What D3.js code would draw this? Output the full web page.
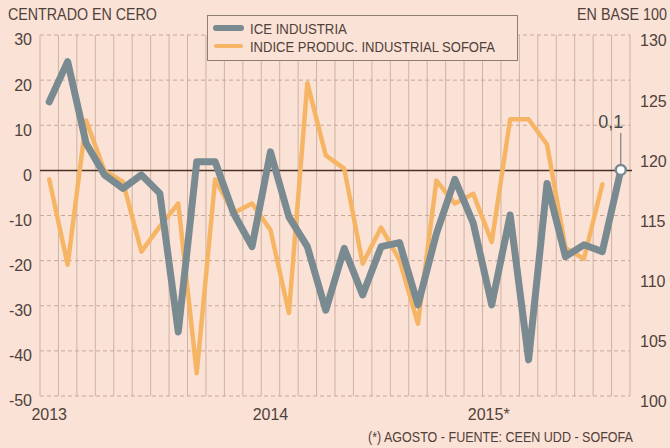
<!DOCTYPE html>
<html>
<head>
<meta charset="utf-8">
<script src="https://cdn.jsdelivr.net/npm/d3@7"></script>
<style>
  html, body { margin: 0; padding: 0; background: #fbe2d6; }
  svg { display: block; font-family: "Liberation Sans", Arial, sans-serif; }
</style>
</head>
<body>
<svg id="chart" width="670" height="448"></svg>
<script>
// =========================
// DATA
// =========================
const months = [
  "ene-13","feb-13","mar-13","abr-13","may-13","jun-13","jul-13","ago-13",
  "sep-13","oct-13","nov-13","dic-13","ene-14","feb-14","mar-14","abr-14",
  "may-14","jun-14","jul-14","ago-14","sep-14","oct-14","nov-14","dic-14",
  "ene-15","feb-15","mar-15","abr-15","may-15","jun-15","jul-15","ago-15"
];

// ICE industria, centrado en cero (eje izquierdo)
const iceValues = [
  15.2, 24.1, 6.0, -1.0, -4.0, -1.0, -5.1, -35.8,
  1.9, 1.9, -9.5, -16.9, 4.1, -10.3, -16.9, -31.0,
  -17.3, -27.6, -16.9, -16.0, -29.8, -14.0, -2.0, -11.7,
  -29.8, -9.9, -42.0, -2.9, -19.1, -16.5, -18.0, 0.1
];

// Indice produccion industrial Sofofa, base 100 (eje derecho)
const sofofaValues = [
  118.0, 110.9, 122.9, 118.7, 117.8, 112.0, 114.1, 116.0,
  101.9, 118.0, 115.2, 116.0, 113.8, 106.9, 126.0, 120.0,
  118.9, 111.0, 114.0, 111.3, 106.0, 117.9, 116.0, 116.8,
  112.8, 123.0, 123.0, 120.9, 112.3, 111.4, 117.6
];

const leftTicks = [30, 20, 10, 0, -10, -20, -30, -40, -50];
const rightTicks = [130, 125, 120, 115, 110, 105, 100];
const yearMonths = ["ene-13", "ene-14", "ene-15"];
const yearLabels = ["2013", "2014", "2015*"];

// =========================
// SETUP
// =========================
const svg = d3.select("#chart");
const bg = "#fbe2d6";
const textColor = "#4f413a";
const grayLine = "#7a8a91";
const orangeLine = "#f6b565";

const plot = { left: 40, right: 630, top: 35, bottom: 396 };

const x = d3.scaleBand().domain(months).range([plot.left, plot.right]);
const yL = d3.scaleLinear().domain([-50, 30]).range([plot.bottom, plot.top]);
const yR = d3.scaleLinear().domain([100, 130]).range([plot.bottom, plot.top]);
const cx = m => x(m) + x.bandwidth() / 2;

// squeeze a text horizontally to a given width (condensed look)
function fitText(sel, x0, y0, width) {
  const w = sel.node().getComputedTextLength();
  sel.attr("transform", `translate(${x0},${y0}) scale(${width / w},1)`);
  return sel;
}

svg.append("rect").attr("width", 670).attr("height", 448).attr("fill", bg);

// =========================
// GRID
// =========================
const bounds = months.map(m => x(m)).concat([plot.right]);
svg.append("g").selectAll("line")
  .data(bounds)
  .join("line")
  .attr("x1", d => d).attr("x2", d => d)
  .attr("y1", plot.top).attr("y2", plot.bottom)
  .attr("stroke", "#cfb2a2")
  .attr("stroke-width", 1);

svg.append("g").selectAll("line")
  .data(leftTicks.filter(d => d !== 0))
  .join("line")
  .attr("x1", plot.left).attr("x2", plot.right)
  .attr("y1", d => yL(d)).attr("y2", d => yL(d))
  .attr("stroke", "#c6a899")
  .attr("stroke-width", 1)
  .attr("stroke-dasharray", "4,3");

svg.append("line")
  .attr("x1", plot.left).attr("x2", plot.right + 2)
  .attr("y1", yL(0)).attr("y2", yL(0))
  .attr("stroke", "#4a3124")
  .attr("stroke-width", 1.5);

// =========================
// AXES
// =========================
const axL = svg.append("g")
  .attr("transform", `translate(${plot.left},0)`)
  .call(d3.axisLeft(yL).tickValues(leftTicks).tickFormat(d => String(d))
    .tickSize(0).tickPadding(8));
axL.select(".domain").remove();
axL.selectAll("text")
  .attr("dy", "0.62em")
  .attr("fill", textColor)
  .style("font-size", "16px")
  .style("font-family", "Liberation Sans, Arial, sans-serif");

const axR = svg.append("g")
  .attr("transform", `translate(${plot.right},0)`)
  .call(d3.axisRight(yR).tickValues(rightTicks).tickFormat(d => String(d))
    .tickSize(0).tickPadding(10));
axR.select(".domain").remove();
axR.selectAll("text")
  .attr("dy", "0.68em")
  .attr("fill", textColor)
  .style("font-size", "16px")
  .style("font-family", "Liberation Sans, Arial, sans-serif");

svg.append("g").selectAll("text")
  .data(yearMonths)
  .join("text")
  .attr("x", (d, i) => cx(d) + (i === 2 ? -3 : 0))
  .attr("y", 420)
  .attr("text-anchor", "middle")
  .attr("fill", textColor)
  .style("font-size", "16px")
  .text((d, i) => yearLabels[i]);

// =========================
// LINES
// =========================
const sofofaLine = d3.line()
  .x((d, i) => cx(months[i]))
  .y(d => yR(d));

const iceLine = d3.line()
  .x((d, i) => cx(months[i]))
  .y(d => yL(d));

svg.append("path")
  .datum(sofofaValues)
  .attr("d", sofofaLine)
  .attr("fill", "none")
  .attr("stroke", orangeLine)
  .attr("stroke-width", 4.5)
  .attr("stroke-linejoin", "round")
  .attr("stroke-linecap", "round");

svg.append("path")
  .datum(iceValues)
  .attr("d", iceLine)
  .attr("fill", "none")
  .attr("stroke", grayLine)
  .attr("stroke-width", 7)
  .attr("stroke-linejoin", "round")
  .attr("stroke-linecap", "round");

// last value marker
const lastM = months[months.length - 1];
const lastV = iceValues[iceValues.length - 1];
svg.append("line")
  .attr("x1", cx(lastM)).attr("x2", cx(lastM))
  .attr("y1", 133).attr("y2", yL(lastV) - 5)
  .attr("stroke", "#6b6b6b")
  .attr("stroke-width", 1);
svg.append("circle")
  .attr("cx", cx(lastM)).attr("cy", yL(lastV))
  .attr("r", 5)
  .attr("fill", "#ffffff")
  .attr("stroke", grayLine)
  .attr("stroke-width", 2.5);
svg.append("text")
  .attr("x", cx(lastM) - 10).attr("y", 128)
  .attr("text-anchor", "middle")
  .attr("fill", "#4a4a4a")
  .style("font-size", "18px")
  .text("0,1");

// =========================
// LEGEND
// =========================
const lg = svg.append("g");
lg.append("rect")
  .attr("x", 207.5).attr("y", 15.5)
  .attr("width", 310).attr("height", 45)
  .attr("fill", bg)
  .attr("stroke", "#8e7d75")
  .attr("stroke-width", 1);
lg.append("line")
  .attr("x1", 216).attr("x2", 241).attr("y1", 28).attr("y2", 28)
  .attr("stroke", grayLine).attr("stroke-width", 6).attr("stroke-linecap", "round");
lg.append("line")
  .attr("x1", 216).attr("x2", 241).attr("y1", 46).attr("y2", 46)
  .attr("stroke", orangeLine).attr("stroke-width", 4).attr("stroke-linecap", "round");
fitText(lg.append("text")
  .attr("fill", textColor)
  .style("font-size", "15px")
  .text("ICE INDUSTRIA"), 250, 34, 97);
fitText(lg.append("text")
  .attr("fill", textColor)
  .style("font-size", "15px")
  .text("INDICE PRODUC. INDUSTRIAL SOFOFA"), 250, 52, 245);

// =========================
// TITLES / NOTES
// =========================
fitText(svg.append("text")
  .attr("fill", textColor)
  .style("font-size", "17px")
  .text("CENTRADO EN CERO"), 8, 20, 149);

fitText(svg.append("text")
  .attr("fill", textColor)
  .style("font-size", "17px")
  .text("EN BASE 100"), 577, 20, 90);

fitText(svg.append("text")
  .attr("fill", textColor)
  .style("font-size", "15px")
  .text("(*) AGOSTO - FUENTE: CEEN UDD - SOFOFA"), 368, 442, 265);
</script>
</body>
</html>
